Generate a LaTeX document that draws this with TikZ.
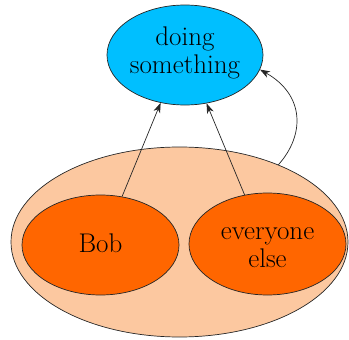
\documentclass[tikz,border=0pt]{standalone}
\usepackage{fontspec}
\usetikzlibrary{shapes.geometric,arrows.meta}
\definecolor{skyfill}{RGB}{0,191,255}
\definecolor{orangefill}{RGB}{255,102,0}
\definecolor{peachfill}{RGB}{252,200,160}
\begin{document}
\begin{tikzpicture}[x=1pt,y=-1pt,
  blob/.style={ellipse, draw=black!85, line width=0.7pt, inner xsep=-10pt, inner ysep=0pt,
    font=\fontsize{27}{28}\selectfont, align=center},
  link/.style={-{Stealth[length=10pt,width=7pt,inset=3pt]}, line width=0.7pt, draw=black!85}]
\useasboundingbox (0,0) rectangle (349,340);
% outer group and its two members
\node[blob, fill=peachfill, minimum width=337pt, minimum height=190pt] (group) at (179.5,242) {};
\node[blob, fill=orangefill, minimum width=157pt, minimum height=100pt] (bob) at (100.5,245)
  {Bob\rule[-4.7pt]{0pt}{0pt}};
\node[blob, fill=orangefill, minimum width=157pt, minimum height=102pt] (rest) at (267.5,244)
  {\rule{0pt}{20pt}everyone\\else};
% the goal
\node[blob, fill=skyfill, minimum width=156pt, minimum height=100pt] (goal) at (185,55)
  {doing\\something\rule[-10.7pt]{0pt}{0pt}};
% edges
\draw[link] (bob.66) -- (goal.243);
\draw[link] (rest.115) -- (goal.-66);
\draw[link] (group.38) .. controls (305,135) and (305,95) .. (goal.-11);
\end{tikzpicture}
\end{document}
